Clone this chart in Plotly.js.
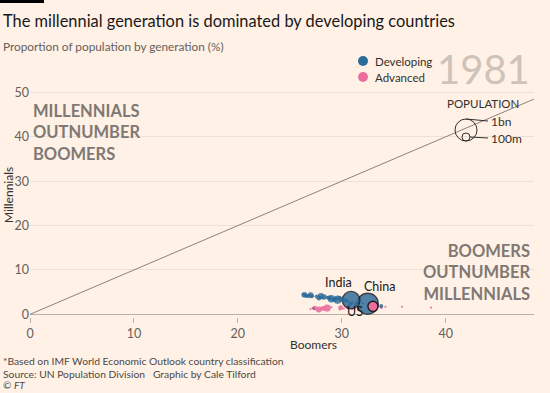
<!DOCTYPE html>
<html><head><meta charset="utf-8">
<script src="https://cdn.plot.ly/plotly-3.0.1.min.js"></script>
<style>html,body{margin:0;padding:0;background:#fff1e5;}#c{width:550px;height:393px;}</style>
</head><body><div id="c"></div>
<script>
// ---- data (1981) ----
const year = "1981";
const devNames = ["China","India","Indonesia","Brazil","Pakistan","Bangladesh","Nigeria","Mexico","Vietnam","Philippines","Thailand","Turkey","Egypt","Iran","Ethiopia","South Korea","Myanmar","Poland","Colombia","Argentina","Kenya","Algeria","Morocco","Peru","Sudan","Tanzania","Malaysia","Venezuela","Uganda","Nepal","Sri Lanka","Ghana","Iraq","Chile","Cuba"];
const devBoomers = [32.5,30.9,29.6,29.0,27.0,28.0,26.4,28.3,29.8,28.8,30.3,29.3,27.8,27.6,26.6,31.4,30.0,33.8,29.2,30.8,26.9,27.2,28.6,28.9,26.7,26.5,30.6,29.5,26.3,27.9,31.0,27.3,27.1,32.0,31.8];
const devMillennials = [2.4,3.2,3.3,3.5,4.3,4.1,4.4,3.9,3.6,3.7,3.1,3.4,3.6,4.0,4.2,2.3,3.2,1.9,3.3,2.3,4.3,4.1,3.8,3.6,4.0,4.3,3.0,3.5,4.5,3.9,2.7,1.3,4.1,2.5,1.4];
const devPop = [1000,700,150,125,85,88,75,70,55,50,47,45,44,40,35,38,34,36,28,29,17,19,20,18,20,19,14,15,13,15,15,11,14,11,10];

const advNames = ["US","Japan","Germany","Italy","United Kingdom","France","Spain","Canada","Australia","Netherlands","Belgium","Portugal","Greece","Sweden","Austria","Switzerland","Israel","New Zealand","Ireland","Denmark","Norway","Finland","Hong Kong","Singapore"];
const advBoomers = [33.0,28.6,27.8,28.2,27.4,29.9,30.6,33.8,33.4,31.0,28.0,29.0,27.2,27.6,27.0,28.4,30.8,34.2,31.3,29.8,30.2,31.6,38.6,35.8];
const advMillennials = [1.8,1.4,1.1,1.3,1.4,1.5,1.6,1.6,1.7,1.3,1.3,1.6,1.4,1.1,1.2,1.2,2.4,1.7,2.1,1.1,1.3,1.3,1.5,1.7];
const advPop = [230,117,78,56,56,54,38,25,15,14,10,10,10,8,8,6,4,3,3,5,4,5,5,2];

const labelled = [["India",0],["China",0],["US",1]];
const xTicks = [0,10,20,30,40];
const yTicks = [0,10,20,30,40,50];
const lineMax = 48.5;

// ---- layout geometry ----
const W = 550, Hh = 393, L = 30, R = 16, T = 88, B = 76;
const PW = W - L - R, PH = Hh - T - B;
const px = x => (x - L) / PW;
const py = y => (Hh - B - y) / PH;

// bubble area proportional to population; 1bn -> keyDiam px diameter
const keyDiam = 21;
const diam = p => p.map(v => Math.max(2.2, keyDiam * Math.sqrt(v / 1000)));
const bg = "#fff1e5";
const dev = "#2b6a99", adv = "#ea6f9e";
const lineW = p => p.map(v => v >= 300 ? 1.4 : 0);
const FAM = "Lato, sans-serif";

const traces = [
  {x:[0,lineMax], y:[0,lineMax], mode:"lines", line:{color:"#8a837e", width:1}, showlegend:false, hoverinfo:"skip"},
  {x:advBoomers.slice(1), y:advMillennials.slice(1), text:advNames.slice(1), mode:"markers", showlegend:false,
   marker:{size:diam(advPop.slice(1)), sizemode:"diameter", color:adv, opacity:0.9, line:{width:0}}},
  {x:devBoomers, y:devMillennials, text:devNames, mode:"markers", showlegend:false,
   marker:{size:diam(devPop), sizemode:"diameter", color:dev, opacity:0.82, line:{width:lineW(devPop), color:"#1a1a1a"}}},
  {x:advBoomers.slice(0,1), y:advMillennials.slice(0,1), text:advNames.slice(0,1), mode:"markers", showlegend:false,
   marker:{size:diam(advPop.slice(0,1)), sizemode:"diameter", color:adv, opacity:1, line:{width:1.4, color:"#1a1a1a"}}}
];

const ann = [];
const f = (s, c, extra) => Object.assign({size:s, color:c, family:FAM}, extra||{});
const pa = (x, y, text, font, o) => ann.push(Object.assign({xref:"paper", yref:"paper", x:px(x), y:py(y), xanchor:"left", yanchor:"middle", showarrow:false, text:text, font:font}, o||{}));
pa(1, 20, "The millennial generation is dominated by developing countries", f(16.4,"#1a1817"));
pa(1, 46, "Proportion of population by generation (%)", f(11.8,"#66605c"));
pa(532, 69, year, f(40,"#cdc3ba"), {xanchor:"right"});
pa(31, 132, "<b>MILLENNIALS<br>OUTNUMBER<br>BOOMERS</b>", f(16.5,"#807874"), {align:"left"});
pa(532, 272, "<b>BOOMERS<br>OUTNUMBER<br>MILLENNIALS</b>", f(16.5,"#807874"), {xanchor:"right", align:"right"});
pa(313, 344, "Boomers", f(12,"#33302e"), {xanchor:"center"});
pa(8, 195, "Millennials", f(12,"#33302e"), {xanchor:"center", textangle:-90});
pa(1, 361, "*Based on IMF World Economic Outlook country classification", f(10.3,"#4d4845"));
pa(1, 374, "Source: UN Population Division   Graphic by Cale Tilford", f(10.3,"#4d4845"));
pa(1, 393, "© <i>FT</i>", f(10,"#4d4845"), {yanchor:"bottom"});
// legend
pa(373, 61, "Developing", f(11.5,"#33302e"));
pa(373, 77, "Advanced", f(11.5,"#33302e"));
// population key
pa(521, 103, "POPULATION", f(11.5,"#33302e"), {xanchor:"right"});
pa(489, 121, "1bn", f(12,"#33302e"));
pa(489, 138, "100m", f(12,"#33302e"));
// country labels
const offs = {India:[-13,-18], China:[12,-17], US:[-18,5]};
labelled.forEach(([n, g]) => {
  const names = g === 0 ? devNames : advNames;
  const i = names.indexOf(n);
  const xs = g === 0 ? devBoomers : advBoomers, ys = g === 0 ? devMillennials : advMillennials;
  ann.push({x:xs[i], y:ys[i], text:n, showarrow:true, arrowcolor:"rgba(0,0,0,0)", ax:offs[n][0], ay:offs[n][1],
    font:f(12.5,"#1a1817"), xanchor:"center", yanchor:"middle"});
});

const shapes = [
  {type:"rect", xref:"paper", yref:"paper", x0:px(0), x1:px(44), y0:py(0), y1:py(3), fillcolor:"#000", line:{width:0}},
  {type:"circle", xref:"paper", yref:"paper", x0:px(358), x1:px(368), y0:py(56), y1:py(66), fillcolor:dev, line:{width:0}},
  {type:"circle", xref:"paper", yref:"paper", x0:px(358), x1:px(368), y0:py(72), y1:py(82), fillcolor:adv, line:{width:0}},
  {type:"circle", xref:"paper", yref:"paper", x0:px(455), x1:px(477), y0:py(119), y1:py(141), line:{color:"#33302e", width:1}},
  {type:"circle", xref:"paper", yref:"paper", x0:px(462), x1:px(470), y0:py(133), y1:py(141), line:{color:"#33302e", width:1}},
  {type:"line", xref:"paper", yref:"paper", x0:px(466), x1:px(488), y0:py(119), y1:py(121), line:{color:"#33302e", width:1}},
  {type:"line", xref:"paper", yref:"paper", x0:px(470), x1:px(488), y0:py(137), y1:py(138), line:{color:"#33302e", width:1}}
];

const axFont = {size:12.5, color:"#66605c", family:FAM};
const layout = {
  width:W, height:Hh, margin:{l:L, r:R, t:T, b:B},
  paper_bgcolor:bg, plot_bgcolor:bg,
  xaxis:{range:[0,lineMax], tickvals:xTicks, showgrid:false, zeroline:false, showline:false,
         ticks:"outside", ticklen:5, tickcolor:"#b9b0a8", tickfont:axFont, fixedrange:true},
  yaxis:{range:[-0.6,51], tickvals:yTicks, showgrid:true, gridcolor:"#ebe1d7", zeroline:true, zerolinecolor:"#b9b0a8", zerolinewidth:1,
         showline:false, ticks:"", tickfont:axFont, fixedrange:true},
  showlegend:false,
  annotations:ann, shapes:shapes, hovermode:false
};
Plotly.newPlot("c", traces, layout, {staticPlot:true});
</script></body></html>
